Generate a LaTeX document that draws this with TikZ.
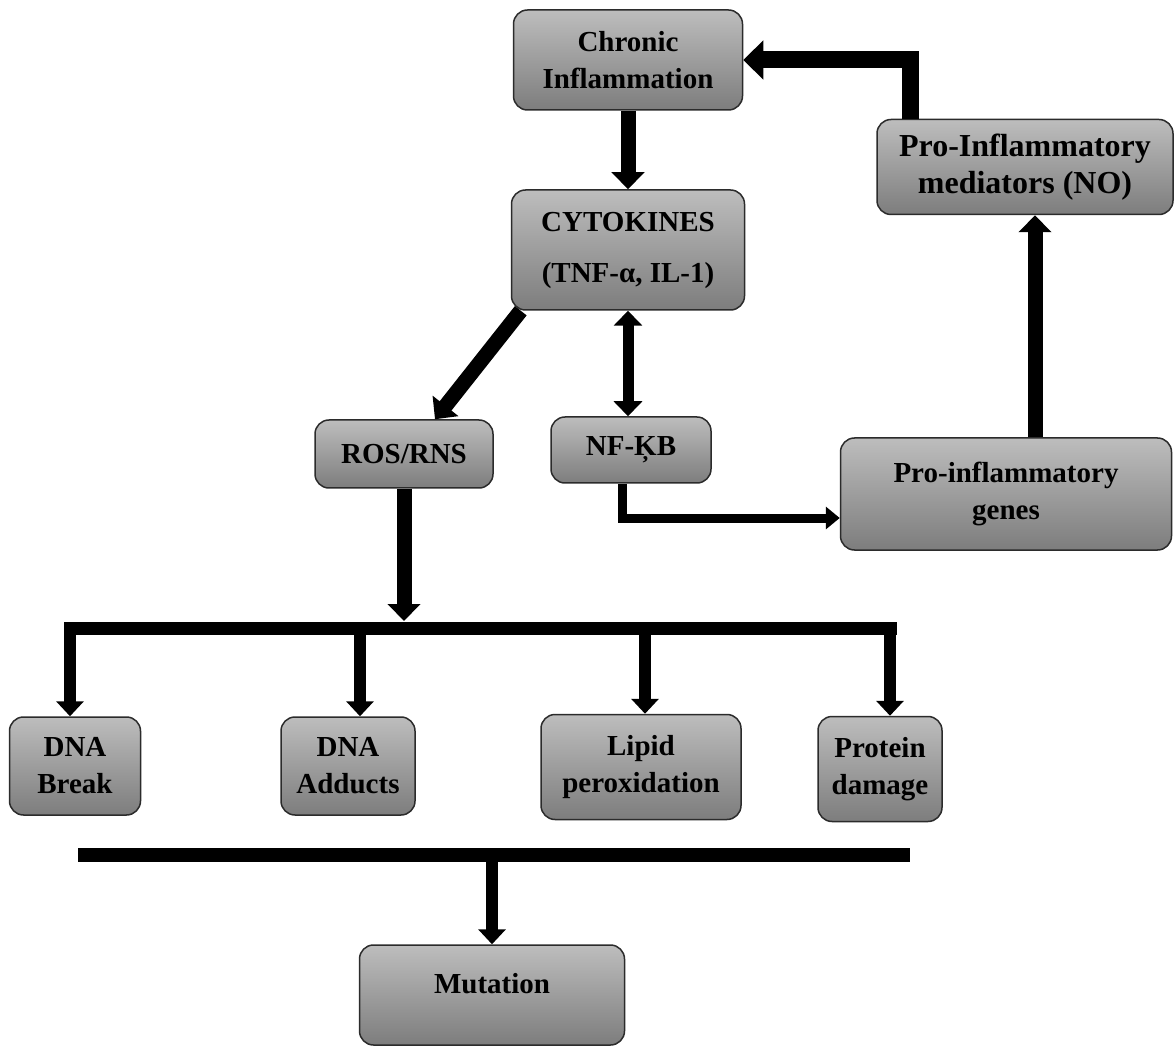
\documentclass[tikz,border=0pt]{standalone}
\usepackage{fontspec}
\setmainfont{Liberation Serif}
\usetikzlibrary{arrows.meta,calc}
\definecolor{boxtop}{HTML}{BDBDBD}
\definecolor{boxbot}{HTML}{7D7D7D}
\definecolor{edge}{HTML}{2B2B2B}
\tikzset{box/.style={draw=edge,line width=1.5pt,rounded corners=14pt,top color=boxtop,
  bottom color=boxbot,align=center,inner sep=0pt,font=\fontsize{29}{37}\selectfont\bfseries},
  arrow/.style={-{Triangle[length=17pt,width=32pt]},line width=15pt},
  midarrow/.style={-{Triangle[length=15pt,width=27pt]},line width=12pt},
  thinarrow/.style={-{Triangle[length=14pt,width=22pt]},line width=9pt},
  bar/.style={line width=13pt,line cap=rect}}

\begin{document}
\begin{tikzpicture}[x=1pt,y=-1pt]
\useasboundingbox (0,0) rectangle (1176,1048);
\node[box,minimum width=229pt,minimum height=100pt] (chronic) at (628,60) {Chronic\\Inflammation};
\node[box,minimum width=233pt,minimum height=120pt] (cyto) at (628,250) {CYTOKINES\\[14pt](TNF-α, IL-1)};
\node[box,minimum width=296pt,minimum height=95pt,font=\fontsize{32}{37}\selectfont\bfseries]
  (med) at (1025,167) {Pro-Inflammatory\\mediators (NO)};
\node[box,minimum width=178pt,minimum height=68pt] (ros) at (404,454) {ROS/RNS};
\node[box,minimum width=160pt,minimum height=66pt] (nfkb) at (631,450) {NF-ĶB};
\node[box,minimum width=331pt,minimum height=112pt] (genes) at (1006,494) {Pro-inflammatory\\genes};
\node[box,minimum width=131pt,minimum height=98pt] (dnab) at (75,766) {DNA\\Break};
\node[box,minimum width=134pt,minimum height=98pt] (dnaa) at (348,766) {DNA\\Adducts};
\node[box,minimum width=200pt,minimum height=105pt] (lipid) at (641,767) {Lipid\\peroxidation};
\node[box,minimum width=124pt,minimum height=105pt] (prot) at (880,769) {Protein\\damage};
\node[box,minimum width=265pt,minimum height=100pt] (mut) at (492,995) {\raisebox{24pt}{Mutation}};

\coordinate (hub) at (404,628);
\coordinate (cL) at (70,628);
\coordinate (cR) at (890,628);
\coordinate (mL) at (78,855);
\coordinate (mR) at (910,855);

\draw[arrow] (chronic) -- (cyto);
\draw[arrow,line width=17pt,-{Triangle[length=20pt,width=38pt]}] ([xshift=-115pt]med.north) |- (chronic.east);
\draw[arrow] ([xshift=29pt]genes.north) -- ([xshift=29pt]genes.north |- med.south);
\draw[arrow] ([xshift=10pt]cyto.south west) -- ([xshift=31pt]ros.north);
\draw[{Triangle[length=15pt,width=28pt]}-{Triangle[length=15pt,width=28pt]},line width=11pt]
  (cyto.south) -- (cyto.south |- nfkb.north);
\draw[thinarrow] ([xshift=-9pt]nfkb.south) |- ([yshift=-24pt]genes.west);
\draw[arrow,shorten >=7pt] (ros) -- (ros.south |- hub);

\draw[bar] (cL) -- (cR);
\foreach \n/\dx in {dnab/-5,dnaa/12,lipid/4,prot/10}
  \draw[midarrow] ([xshift=\dx pt]\n.north |- cL) -- ([xshift=\dx pt]\n.north);

\draw[bar,line width=14pt,line cap=butt] (mL) -- (mR);
\draw[midarrow] (mut.north |- mL) -- (mut);
\end{tikzpicture}
\end{document}
